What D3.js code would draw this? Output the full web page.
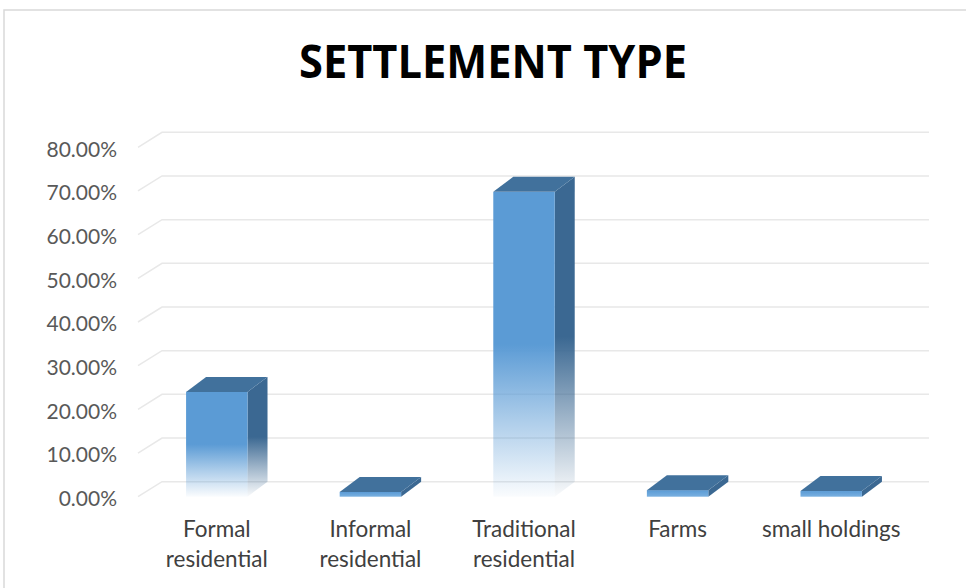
<!DOCTYPE html>
<html>
<head>
<meta charset="utf-8">
<script src="https://cdn.jsdelivr.net/npm/d3@7"></script>
<style>
  html, body { margin: 0; padding: 0; background: #fff; }
  svg { display: block; }
</style>
</head>
<body>
<svg id="chart" width="966" height="588"></svg>
<script>
// Settlement type shares
const categories = ["Formal residential", "Informal residential", "Traditional residential", "Farms", "small holdings"];
const categoryLines = [["Formal", "residential"], ["Informal", "residential"], ["Traditional", "residential"], ["Farms"], ["small holdings"]];
const shares = [0.240, 0.011, 0.698, 0.015, 0.013];
const tickValues = [0, 0.1, 0.2, 0.3, 0.4, 0.5, 0.6, 0.7, 0.8];
const titleText = "SETTLEMENT TYPE";

const svg = d3.select("#chart");
const W = 966, H = 588;

// frame
svg.append("rect")
  .attr("x", 4).attr("y", 10)
  .attr("width", W + 10).attr("height", H)
  .attr("fill", "#fff")
  .attr("stroke", "#d9d9d9").attr("stroke-width", 1.5);

// title
svg.append("text")
  .attr("x", 493).attr("y", 78)
  .attr("text-anchor", "middle")
  .attr("font-family", "'Open Sans', sans-serif")
  .attr("font-weight", 700)
  .attr("font-size", 46)
  .attr("fill", "#000")
  .attr("textLength", 388)
  .attr("lengthAdjust", "spacingAndGlyphs")
  .text(titleText);

// 3D projection offsets
const wallDX = 24, wallDY = -15;   // side wall depth
const barDX = 20, barDY = -15;     // column depth

const y = d3.scaleLinear().domain([0, 0.8]).range([496.7, 147.3]);
const x = d3.scaleBand().domain(categories).range([140, 908])
  .paddingInner(0.6).paddingOuter(0.3);

const plotLeft = 138, backRight = 929;

// gridlines: short diagonal on the side wall + line across the back wall
const grid = svg.append("g").attr("class", "grid");
tickValues.forEach(v => {
  const yf = y(v), yb = yf + wallDY;
  grid.append("path")
    .attr("d", `M${plotLeft},${yf}L${plotLeft + wallDX},${yb}H${backRight}`)
    .attr("fill", "none")
    .attr("stroke", "#e8e8e8")
    .attr("stroke-width", 1.5);
});

// y axis labels
const yAxis = d3.axisLeft(y)
  .tickValues(tickValues)
  .tickFormat(d3.format(".2%"))
  .tickSize(0)
  .tickPadding(21);
const ya = svg.append("g")
  .attr("transform", `translate(${plotLeft},2)`)
  .call(yAxis);
ya.select(".domain").remove();
ya.selectAll("text")
  .attr("font-family", "Lato, 'Open Sans', sans-serif")
  .attr("font-size", 21)
  .attr("fill", "#595959");

// gradients for fading columns
const defs = svg.append("defs");
function fade(id, color) {
  const g = defs.append("linearGradient").attr("id", id)
    .attr("x1", 0).attr("y1", 0).attr("x2", 0).attr("y2", 1);
  g.append("stop").attr("offset", "0%").attr("stop-color", color).attr("stop-opacity", 1);
  g.append("stop").attr("offset", "50%").attr("stop-color", color).attr("stop-opacity", 1);
  g.append("stop").attr("offset", "75%").attr("stop-color", color).attr("stop-opacity", 0.5);
  g.append("stop").attr("offset", "100%").attr("stop-color", color).attr("stop-opacity", 0.03);
}
fade("frontFade", "#5b9bd5");
fade("sideFade", "#3b6892");
// thin columns keep a solid face
defs.append("linearGradient").attr("id", "frontSolid")
  .attr("x1", 0).attr("y1", 0).attr("x2", 0).attr("y2", 1)
  .call(g => {
    g.append("stop").attr("offset", "0%").attr("stop-color", "#5b9bd5");
    g.append("stop").attr("offset", "100%").attr("stop-color", "#79b0e0");
  });

const bars = svg.append("g").attr("class", "bars");
categories.forEach((c, i) => {
  const v = shares[i];
  const x0 = x(c), w = x.bandwidth();
  const yt = y(v), yb = y(0);
  const thin = (yb - yt) < 20;
  const g = bars.append("g");
  // side face
  g.append("path")
    .attr("d", `M${x0 + w},${yt}L${x0 + w + barDX},${yt + barDY}L${x0 + w + barDX},${yb + barDY}L${x0 + w},${yb}Z`)
    .attr("fill", thin ? "#3b6892" : "url(#sideFade)");
  // front face
  g.append("rect")
    .attr("x", x0).attr("y", yt)
    .attr("width", w).attr("height", yb - yt)
    .attr("fill", thin ? "url(#frontSolid)" : "url(#frontFade)");
  // top face
  g.append("path")
    .attr("d", `M${x0},${yt}L${x0 + w},${yt}L${x0 + w + barDX},${yt + barDY}L${x0 + barDX},${yt + barDY}Z`)
    .attr("fill", "#41719c");
});

// category labels
const labels = svg.append("g").attr("class", "xlabels");
categories.forEach((c, i) => {
  const cx = x(c) + x.bandwidth() / 2;
  const t = labels.append("text")
    .attr("x", cx).attr("y", 537)
    .attr("text-anchor", "middle")
    .attr("font-family", "Lato, 'Open Sans', sans-serif")
    .attr("font-size", 22.5)
    .attr("fill", "#404040");
  categoryLines[i].forEach((line, k) => {
    t.append("tspan").attr("x", cx).attr("dy", k === 0 ? 0 : 30).text(line);
  });
});
</script>
</body>
</html>
